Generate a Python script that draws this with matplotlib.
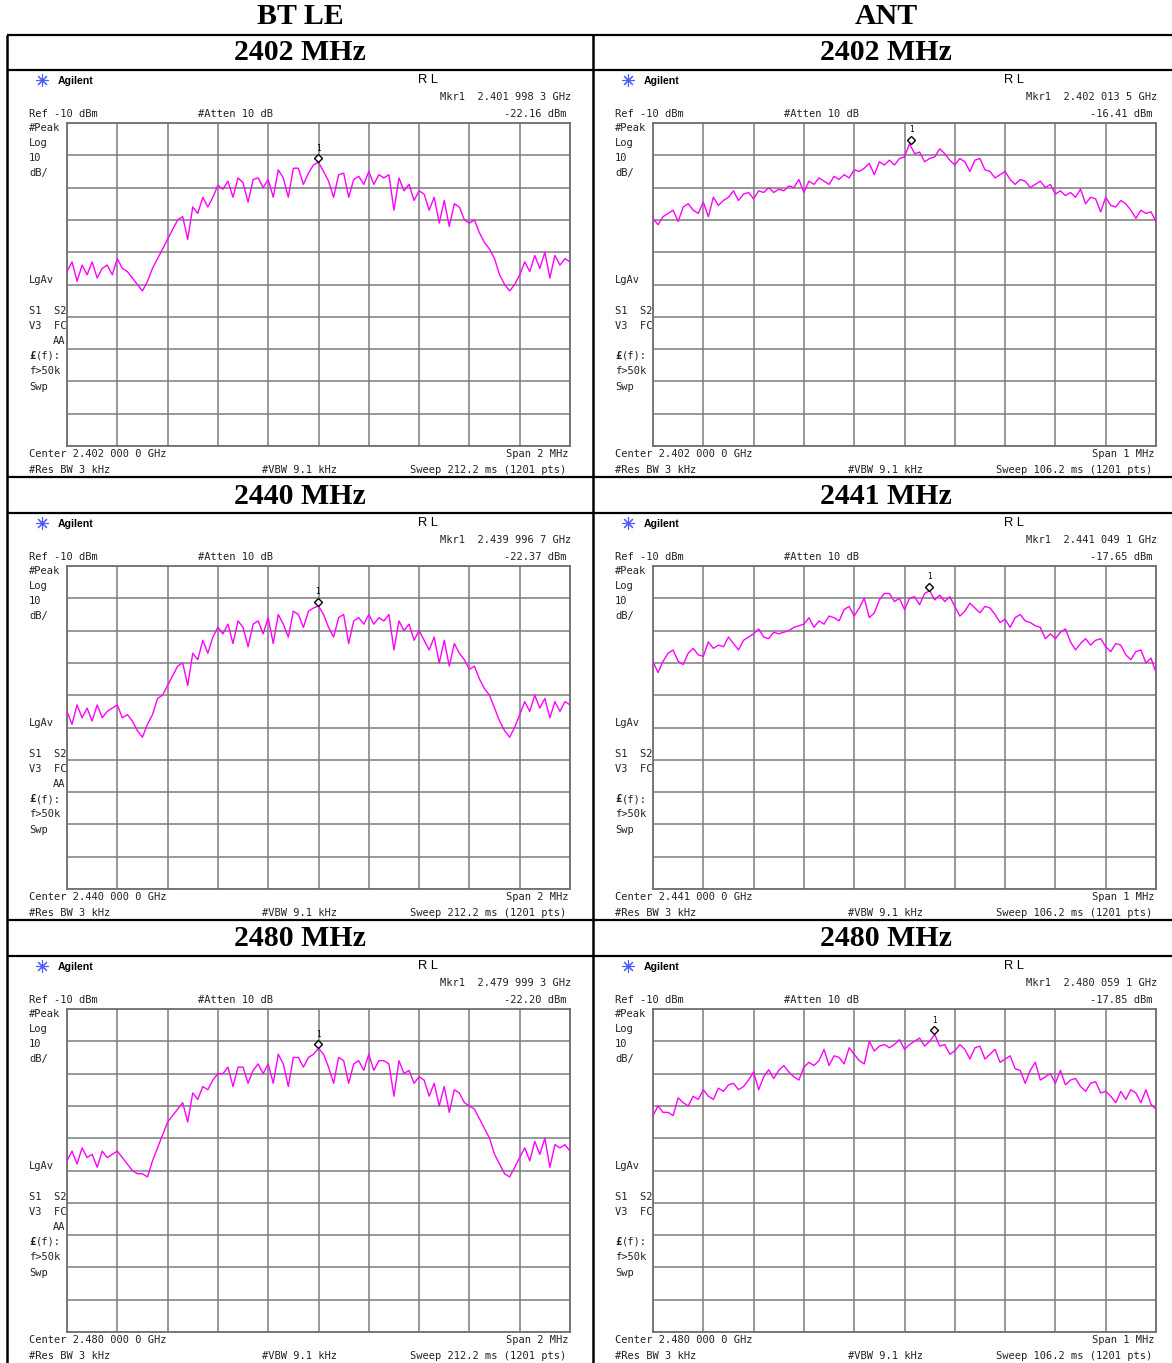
import numpy as np
import matplotlib.pyplot as plt
from matplotlib import transforms

W, H = 1172, 1363

# table text
col_titles = ['BT LE', 'ANT']
row_titles = [['2402 MHz', '2440 MHz', '2480 MHz'],
              ['2402 MHz', '2441 MHz', '2480 MHz']]
center_text = [['2.402 000 0', '2.440 000 0', '2.480 000 0'],
               ['2.402 000 0', '2.441 000 0', '2.480 000 0']]
mkr_text = [['2.401 998 3', '2.439 996 7', '2.479 999 3'],
            ['2.402 013 5', '2.441 049 1', '2.480 059 1']]
mkr_dbm = [[-22.16, -22.37, -22.20], [-16.41, -17.65, -17.85]]
mkr_khz = [[-1.7, -3.3, -0.7], [13.5, 49.1, 59.1]]  # offset from center
span_mhz = [2, 1]
sweep_ms = ['212.2', '106.2']

# traces in dBm at 1/10 division steps (101 pts)
bt_2402 = [-56, -53, -59, -54, -57, -53, -58, -55, -54, -57,
           -52, -55, -56, -58, -60, -62, -59, -55, -52, -49,
           -46, -43, -40, -39, -46, -36, -38, -33, -36, -33,
           -29.3, -30.5, -28, -33, -27, -28.5, -34.5, -27.5, -27, -30,
           -27.5, -33, -24.5, -27, -33, -24, -24, -29, -25.5, -23,
           -22.16, -25, -28, -33, -26, -25.5, -33, -27.5, -26.5, -29,
           -25, -29, -26, -27, -26, -37, -27, -31, -29, -34,
           -31, -32, -37, -33, -41, -34, -42, -35, -36, -40,
           -41, -40, -44, -47, -49, -52, -57, -60, -62, -60,
           -57, -53, -56, -51, -55, -50, -58, -51, -54, -52, -53]
bt_2440 = [-55, -59, -53, -57, -54, -58, -53, -57, -55, -54,
           -53, -57, -56, -58, -61, -63, -59, -56, -51, -50,
           -47, -44, -41, -40, -47, -37, -39, -33, -37, -32,
           -29, -31, -28, -34, -27, -29, -35, -28, -27, -31,
           -26, -34, -25, -28, -32, -24, -25, -29, -24, -23,
           -22.37, -25, -29, -32, -26, -25, -34, -27, -26, -28,
           -25, -28, -26, -27, -25, -36, -27, -30, -28, -33,
           -30, -33, -36, -32, -40, -33, -41, -34, -37, -39,
           -42, -41, -45, -48, -50, -54, -58, -61, -63, -60,
           -56, -52, -55, -50, -54, -51, -57, -52, -55, -52, -53]
bt_2480 = [-57, -54, -58, -53, -56, -55, -59, -54, -56, -55,
           -54, -56, -58, -60, -61, -61, -62, -57, -53, -49,
           -45, -43, -41, -39, -45, -36, -38, -34, -35, -32,
           -30, -30, -28, -34, -28, -28, -33, -29, -27, -30,
           -27, -33, -24, -27, -34, -25, -25, -28, -25, -24,
           -22.2, -24, -28, -33, -25, -26, -33, -27, -26, -29,
           -24, -29, -26, -26, -27, -37, -26, -30, -29, -33,
           -31, -32, -37, -33, -40, -34, -42, -35, -36, -39,
           -40, -41, -44, -47, -50, -55, -58, -61, -62, -59,
           -56, -53, -57, -51, -55, -50, -59, -52, -53, -52, -54]
ant_2402 = [-39.6, -41.5, -39, -38, -37, -40.5, -36, -35, -37, -38,
            -34.5, -39, -33, -35.5, -34, -33, -31, -34, -32, -31.5,
            -33.5, -31, -31.5, -30, -31.5, -30.5, -31, -29.5, -30, -27.5,
            -31.5, -28, -29, -27, -28, -29, -26.5, -27.5, -26, -27,
            -24.5, -25, -24, -22.5, -26, -22, -23, -21.5, -23, -21,
            -20.5, -16.41, -19.5, -19, -22, -21, -20.5, -18, -19.5, -21.5,
            -23, -21, -22, -25, -21.5, -21, -24.5, -25, -27, -26,
            -25, -27.5, -29, -27.5, -28, -30, -29, -28, -30, -29,
            -32, -31, -32.5, -31.5, -33, -30.5, -35, -33, -33.5, -37.5,
            -33, -35.5, -36, -34, -35, -37, -39.5, -37, -38, -37.5, -40.5]
ant_2441 = [-39.6, -43, -39.5, -37, -36, -39.5, -40.5, -37, -35.5, -37.5,
            -38, -33.5, -35.5, -34.5, -35, -32, -34, -36, -33, -32,
            -31, -29.5, -32, -32.5, -30.5, -31, -30.5, -30, -29, -28.5,
            -28, -26, -29, -27, -28, -25.5, -26, -27, -23.5, -22.5,
            -25.5, -23, -20, -26, -24.5, -20.5, -18.5, -18.5, -21, -20,
            -23.5, -20, -19.5, -22, -18.5, -17.65, -20.5, -19, -21, -19.5,
            -22.5, -25.5, -24, -21.5, -23, -24.5, -22.5, -23, -25, -27.5,
            -26.5, -29, -26, -25, -27, -27.5, -28.5, -29, -32.5, -31,
            -32.5, -30.5, -29.5, -33.5, -36, -34, -32.5, -34.5, -33, -32.5,
            -35, -36.5, -34, -34.5, -37.5, -39, -36.5, -36, -40, -38.5, -43]
ant_2480 = [-43, -40, -42, -42, -43, -37.5, -39, -40, -37, -38,
            -35, -37, -38, -34.5, -35.5, -33.5, -33, -35, -34, -32,
            -29.5, -35, -31, -28.8, -31.5, -29, -27.5, -29.5, -31, -32,
            -28, -26.5, -27.5, -26, -22.5, -27.5, -24.5, -25, -27, -22,
            -24, -26, -27, -20, -23, -21.5, -21, -22, -21, -19.5,
            -22.5, -21, -20, -19, -21.5, -20, -17.85, -21.5, -21, -24,
            -23, -21, -22.5, -25.5, -22, -21.5, -25.5, -24, -22.5, -26.5,
            -25.5, -24.5, -28.5, -29, -33, -29, -26.5, -32, -31, -30,
            -33, -29, -33.5, -32, -31.5, -34, -35.5, -33, -32.5, -36,
            -35.5, -37, -39, -35.5, -38, -35, -36, -39, -35, -39.5, -41]

traces = [[bt_2402, bt_2440, bt_2480], [ant_2402, ant_2441, ant_2480]]

fig = plt.figure(figsize=(W / 100, H / 100), dpi=100)
bg = fig.add_axes([0, 0, 1, 1])
bg.set_xlim(0, W)
bg.set_ylim(H, 0)
bg.axis('off')

serif = 'Liberation Serif'
mono = dict(family='DejaVu Sans Mono', fontsize=7.5, color='#222222', va='center')

# table
for y in [35, 70, 477, 513, 920, 956]:
    bg.plot([7, W], [y, y], color='black', lw=1.6, solid_capstyle='butt')
for x in [7, 593]:
    bg.plot([x, x], [35, H], color='black', lw=1.8, solid_capstyle='butt')

for c in range(2):
    cx = 300 + 586 * c
    bg.text(cx, 17, col_titles[c], family=serif, weight='bold', fontsize=21.5,
            ha='center', va='center')
    for r in range(3):
        bg.text(cx, 53 + 443 * r, row_titles[c][r], family=serif, weight='bold',
                fontsize=21.5, ha='center', va='center')


def px_axes(x0, y0, x1, y1):
    return fig.add_axes([x0 / W, 1 - y1 / H, (x1 - x0) / W, (y1 - y0) / H])


for c in range(2):
    dx = 586 * c
    half = span_mhz[c] * 500.0
    for r in range(3):
        dy = 443 * r
        # header text of the analyzer screen
        bg.plot(42 + dx, 80 + dy, marker=(8, 2, 0), ms=9, color='#4a5cff', mew=0.8)
        bg.text(58 + dx, 81 + dy, 'Agilent', family='Liberation Sans', weight='bold',
                fontsize=7.6, va='center')
        bg.text(418 + dx, 80 + dy, 'R L', family='Liberation Sans', fontsize=9.3,
                va='center')
        bg.text(571 + dx, 97 + dy, 'Mkr1  ' + mkr_text[c][r] + ' GHz', ha='right', **mono)
        bg.text(29 + dx, 114 + dy, 'Ref -10 dBm', **mono)
        bg.text(198 + dx, 114 + dy, '#Atten 10 dB', **mono)
        bg.text(566 + dx, 114 + dy, '%.2f dBm' % mkr_dbm[c][r], ha='right', **mono)

        side = [('#Peak', 128), ('Log', 143), ('10', 158), ('dB/', 173),
                ('LgAv', 280), ('S1  S2', 311), ('V3  FC', 326),
                ('f>50k', 371), ('Swp', 387)]
        for s, yy in side:
            bg.text(29 + dx, yy + dy, s, **mono)
        if c == 0:
            bg.text(65 + dx, 341 + dy, 'AA', ha='right', **mono)
        bg.text(29 + dx, 356 + dy, '£', weight='bold', **mono)
        bg.text(35.5 + dx, 356 + dy, '(f):', **mono)

        bg.text(29 + dx, 454 + dy, 'Center ' + center_text[c][r] + ' GHz', **mono)
        bg.text(568 + dx, 454 + dy, 'Span %d MHz' % span_mhz[c], ha='right', **mono)
        bg.text(29 + dx, 470 + dy, '#Res BW 3 kHz', **mono)
        bg.text(262 + dx, 470 + dy, '#VBW 9.1 kHz', **mono)
        bg.text(566 + dx, 470 + dy, 'Sweep ' + sweep_ms[c] + ' ms (1201 pts)',
                ha='right', **mono)

        # graticule and trace
        ax = px_axes(67 + dx, 123 + dy, 570 + dx, 446 + dy)
        ax.set_xlim(-half, half)
        ax.set_ylim(-110, -10)
        ax.set_xticks(np.linspace(-half, half, 11))
        ax.set_yticks(np.linspace(-110, -10, 11))
        ax.grid(True, color='#7c7c7c', lw=1.1)
        ax.tick_params(length=0, labelbottom=False, labelleft=False)
        for sp in ax.spines.values():
            sp.set_color('#707070')
            sp.set_linewidth(1.3)
        ax.set_axisbelow(True)

        tr = traces[c][r]
        freq = np.linspace(-half, half, len(tr))
        ax.plot(freq, tr, color='#ff00ff', lw=1.0, zorder=3)

        mf, md = mkr_khz[c][r], mkr_dbm[c][r]
        t1 = transforms.offset_copy(ax.transData, fig=fig, x=0, y=4, units='dots')
        t2 = transforms.offset_copy(ax.transData, fig=fig, x=0, y=14, units='dots')
        ax.plot(mf, md, marker='D', ms=4.5, mfc='white', mec='black', mew=1.0,
                transform=t1, clip_on=False, zorder=5)
        ax.text(mf, md, '1', transform=t2, fontsize=5.5, ha='center', va='center',
                family='DejaVu Sans Mono', zorder=5)

fig.savefig('out.png', dpi=100)
